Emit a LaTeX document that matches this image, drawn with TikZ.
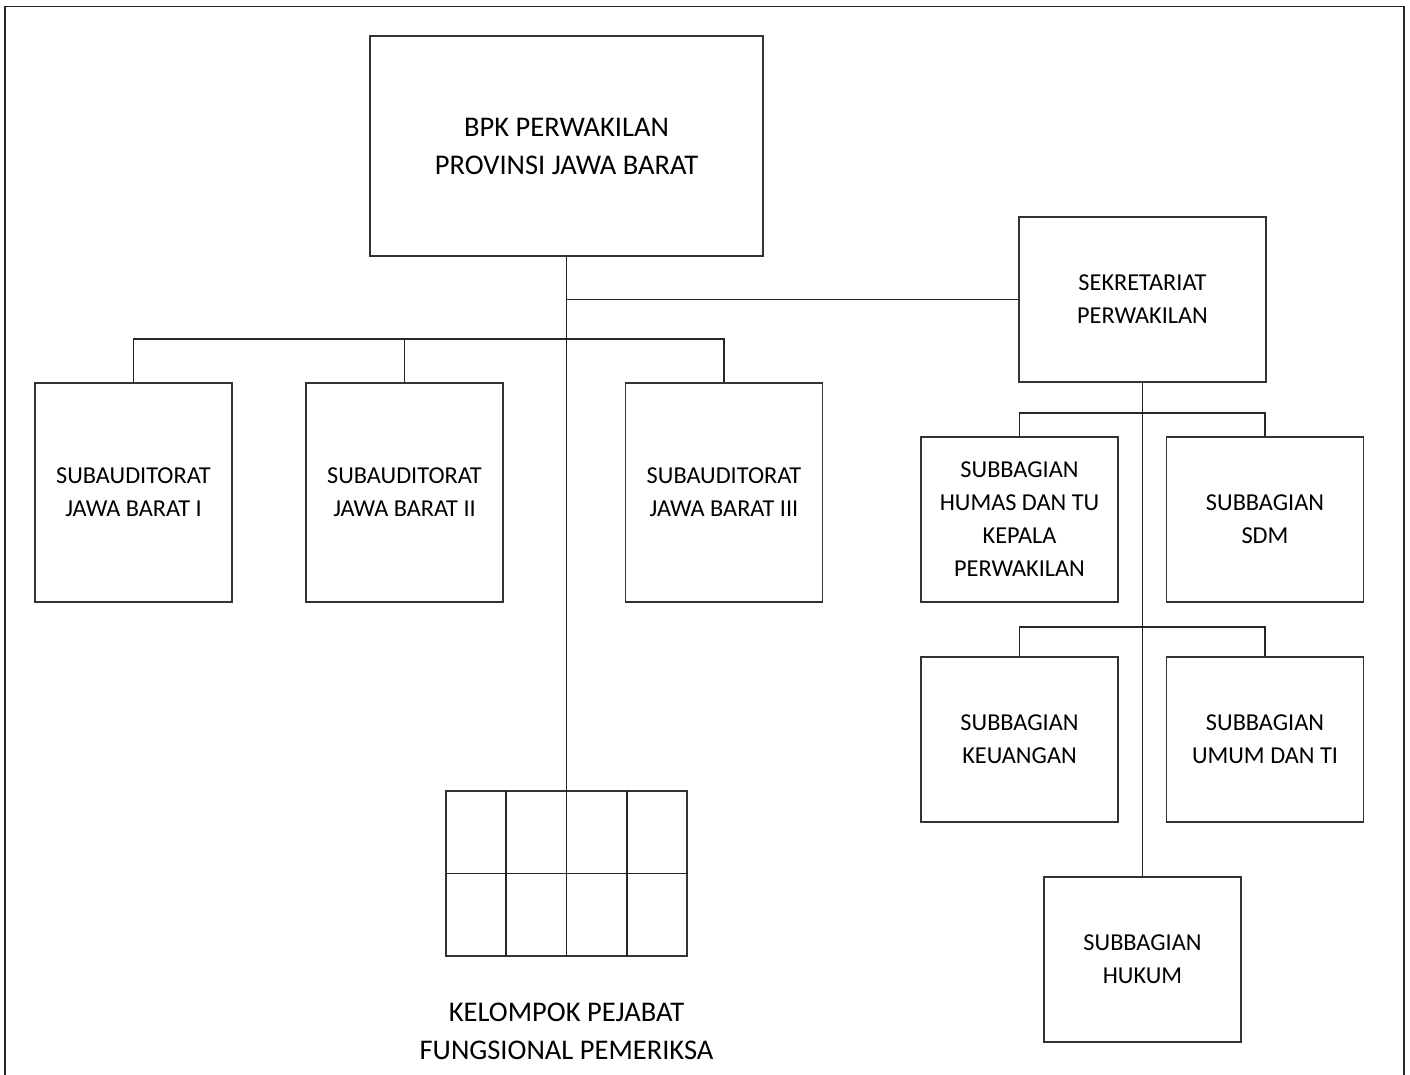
\documentclass[tikz,border=0pt]{standalone}
\usepackage{fontspec}
\setmainfont{Carlito}
\usetikzlibrary{calc}
\begin{document}
\begin{tikzpicture}[x=1pt,y=-1pt,
  conn/.style={line width=1.3pt,draw=black!85},
  unit/.style={draw,line width=1.3pt,draw=black!80,rectangle,inner sep=0pt,align=center,font=\fontsize{24.3}{33}\selectfont},
  bigunit/.style={unit,font=\fontsize{28.5}{38}\selectfont},
  caption/.style={align=center,inner sep=0pt,font=\fontsize{28.5}{38}\selectfont}]
\useasboundingbox (0,0) rectangle (1410,1075);
\draw[conn] (5,1075) -- (5,6.5) -- (1404,6.5) -- (1404,1075);
% nodes
\node[bigunit,minimum width=393,minimum height=220] (top) at (566.5,146) {BPK PERWAKILAN\\PROVINSI JAWA BARAT};
\node[unit,minimum width=197,minimum height=219] (sub1) at (133.5,492.5) {SUBAUDITORAT\\JAWA BARAT I};
\node[unit,minimum width=197,minimum height=219] (sub2) at (404.5,492.5) {SUBAUDITORAT\\JAWA BARAT II};
\node[unit,minimum width=197,minimum height=219] (sub3) at (724,492.5) {SUBAUDITORAT\\JAWA BARAT III};
\node[unit,minimum width=247,minimum height=165] (sek) at (1142.5,299.5) {SEKRETARIAT\\PERWAKILAN};
\node[unit,minimum width=197,minimum height=165] (humas) at (1019.5,519.5) {SUBBAGIAN\\HUMAS DAN TU\\KEPALA\\PERWAKILAN};
\node[unit,minimum width=197,minimum height=165] (sdm) at (1265,519.5) {SUBBAGIAN\\SDM};
\node[unit,minimum width=197,minimum height=165] (keu) at (1019.5,739.5) {SUBBAGIAN\\KEUANGAN};
\node[unit,minimum width=197,minimum height=165] (umum) at (1265,739.5) {SUBBAGIAN\\UMUM DAN TI};
\node[unit,minimum width=197,minimum height=165] (hukum) at (1142.5,959.5) {SUBBAGIAN\\HUKUM};
\node[unit,minimum width=241,minimum height=165] (grid) at (566.5,873.5) {};
\node[caption] (cap) at (566.5,1031) {KELOMPOK PEJABAT\\FUNGSIONAL PEMERIKSA};
% grid cells
\foreach \f in {0.25,0.5,0.75}
  \draw[conn] ($(grid.north west)!\f!(grid.north east)$) -- ($(grid.south west)!\f!(grid.south east)$);
\draw[conn] (grid.west) -- (grid.east);
% connectors
\coordinate (b1) at (566.5,339);
\coordinate (b2) at (1142.5,413);
\coordinate (b3) at (1142.5,627);
\draw[conn] (top.south) -- (grid.north);
\draw[conn] (sub1.north) |- (b1) -| (sub3.north);
\draw[conn] (sub2.north) -- (sub2.north |- b1);
\draw[conn] (top.south |- sek.west) -- (sek.west);
\draw[conn] (sek.south) -- (hukum.north);
\draw[conn] (humas.north) |- (b2) -| (sdm.north);
\draw[conn] (keu.north) |- (b3) -| (umum.north);
\end{tikzpicture}
\end{document}
